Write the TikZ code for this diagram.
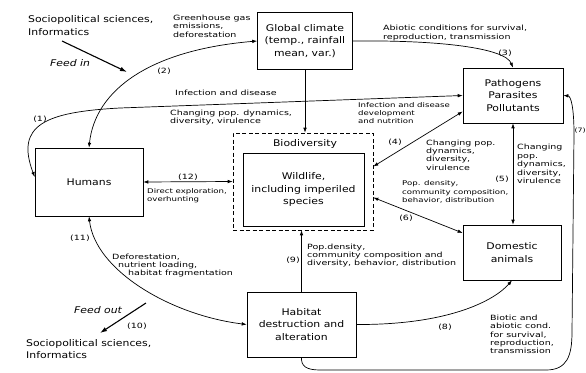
\documentclass[tikz,border=0pt]{standalone}
\usepackage{fontspec}
\setmainfont{DejaVu Sans}
\newfontfamily\boxfam[FakeStretch=1.18,ItalicFont={DejaVu Sans Oblique}]{DejaVu Sans}
\newfontfamily\lblfam[FakeStretch=1.32]{DejaVu Sans}
\newcommand\boxfont{\boxfam\fontsize{9.2}{12.8}\selectfont}
\newcommand\lblfont{\lblfam\fontsize{7.2}{8.4}\selectfont}
\newcommand\lblsmall{\lblfam\fontsize{6.5}{8.2}\selectfont}
\usetikzlibrary{arrows.meta}
\tikzset{
  box/.style={draw, line width=0.6pt, align=center, font=\boxfont, inner sep=0pt},
  groupbox/.style={draw, dash pattern=on 4pt off 2.5pt, line width=0.6pt, inner sep=0pt},
  txt/.style={font=\boxfont, align=left, inner sep=0pt, anchor=west},
  lbl/.style={font=\lblfont, align=left, inner sep=0pt, anchor=west},
  num/.style={font=\lblfont, inner sep=0pt},
  link/.style={-{Latex[length=5pt,width=3.6pt]}, line width=0.7pt},
  twoway/.style={{Latex[length=5pt,width=3.6pt]}-{Latex[length=5pt,width=3.6pt]}, line width=0.7pt},
  feed/.style={-{Latex[length=7pt,width=4.5pt]}, line width=1.1pt},
}
\begin{document}
\begin{tikzpicture}[x=1pt, y=-1pt]
  \useasboundingbox (0,0) rectangle (586,372);
  % boxes
  \node[box, minimum width=95pt, minimum height=57pt] (clim) at (305,41) {Global climate\\(temp., rainfall\\mean, var.)};
  \node[box, minimum width=100pt, minimum height=55pt] (pat) at (513,95.5) {Pathogens\\Parasites\\Pollutants};
  \node[box, minimum width=108pt, minimum height=68pt] (hum) at (89,182) {Humans};
  \node[groupbox, minimum width=140pt, minimum height=97pt] (bio) at (303,181.5) {};
  \node[font=\boxfont, inner sep=0pt] (biotitle) at (305,144) {Biodiversity};
  \node[box, minimum width=121pt, minimum height=73pt] (wild) at (303.5,189.5) {Wildlife,\\including imperiled\\species};
  \node[box, minimum width=98pt, minimum height=55pt] (dom) at (512,252.5) {Domestic\\animals};
  \node[box, minimum width=109pt, minimum height=65pt] (hab) at (301.5,324.5) {Habitat\\destruction and\\alteration};
  % feed in / feed out
  \node[txt] (socin) at (28,25.5) {Sociopolitical sciences,\\Informatics};
  \node[txt] (socout) at (26,349) {Sociopolitical sciences,\\Informatics};
  \node[txt, font=\boxfont\itshape] (feedin) at (50,63) {Feed in};
  \node[txt, font=\boxfont\itshape] (feedout) at (74,310) {Feed out};
  \coordinate (fin-a) at (62,41);
  \coordinate (fin-b) at (127,72);
  \coordinate (fout-a) at (146,303);
  \coordinate (fout-b) at (100,333);
  \draw[feed] (fin-a) -- (fin-b);
  \draw[feed] (fout-a) -- (fout-b);
  \node[num] (n10) at (137,326) {(10)};
  % connectors
  \draw[twoway] ([yshift=5pt]hum.west) .. controls (15,125) and (45,112) .. (120,108) -- (pat.west);
  \draw[twoway] (hum.north) .. controls (95,90) and (150,50) .. (clim.west);
  \draw[link] (clim.east) .. controls (440,40) and (505,48) .. (pat.north);
  \draw[link] (clim.south) -- (clim.south |- bio.north);
  \draw[twoway] ([yshift=15pt]bio.east) -- ([yshift=-16pt]pat.west);
  \draw[twoway] (pat.south) -- (pat.south |- dom.north);
  \draw[twoway] ([yshift=-16pt]bio.east) -- ([yshift=19.5pt]dom.west);
  \draw[twoway] (hum.east) -- (bio.west);
  \draw[link] (hab.north) -- (hab.north |- bio.south);
  \draw[twoway] (hum.south) .. controls (95,270) and (170,315) .. (hab.west);
  \draw[link] (hab.east) .. controls (450,325) and (495,300) .. (dom.south);
  \draw[link] (hab.south) .. controls (301,366) and (306,370) .. (320,370) -- (546,370)
    .. controls (567,370) and (572,356) .. (572,332) -- (574,134) .. controls (574,108) and (571,96) .. (pat.east);
  % labels
  \node[lbl] (l2) at (173,26) {Greenhouse gas\\emissions,\\deforestation};
  \node[num] (n2) at (164,71) {(2)};
  \node[lbl] (l3) at (383,33) {Abiotic conditions for survival,\\reproduction, transmission};
  \node[num] (n3) at (505,53) {(3)};
  \node[lbl] (l1a) at (175,93) {Infection and disease};
  \node[lbl] (l1b) at (170,117.5) {Changing pop. dynamics,\\diversity, virulence};
  \node[num] (n1) at (40,119) {(1)};
  \node[lbl, font=\lblsmall] (l4a) at (358,113) {Infection and disease\\development\\and nutrition};
  \node[num] (n4) at (395,142) {(4)};
  \node[lbl] (l4b) at (426,155) {Changing pop.\\dynamics,\\diversity,\\virulence};
  \node[lbl] (l5) at (517,164) {Changing\\pop.\\dynamics,\\diversity,\\virulence};
  \node[num] (n5) at (502,179) {(5)};
  \node[lbl, font=\lblsmall] (l6) at (402,192) {Pop. density,\\community composition,\\behavior, distribution};
  \node[num] (n6) at (406,218) {(6)};
  \node[lbl, font=\lblsmall] (l12) at (147,196) {Direct exploration,\\overhunting};
  \node[num] (n12) at (188,177) {(12)};
  \node[num] (n11) at (80,238) {(11)};
  \node[lbl] (l11) at (112,265.5) {Deforestation,\\\hspace*{6pt}nutrient loading,\\\hspace*{16pt}habitat fragmentation};
  \node[num] (n9) at (293,260) {(9)};
  \node[lbl] (l9) at (307,255.5) {Pop.density,\\community composition and\\diversity, behavior, distribution};
  \node[num] (n8) at (445,327) {(8)};
  \node[lbl] (l7) at (490,334.5) {Biotic and\\abiotic cond.\\for survival,\\reproduction,\\transmission};
  \node[num, anchor=east, font=\lblfam\fontsize{6}{7}\selectfont] (n7) at (586,131) {(7)};
\end{tikzpicture}
\end{document}
